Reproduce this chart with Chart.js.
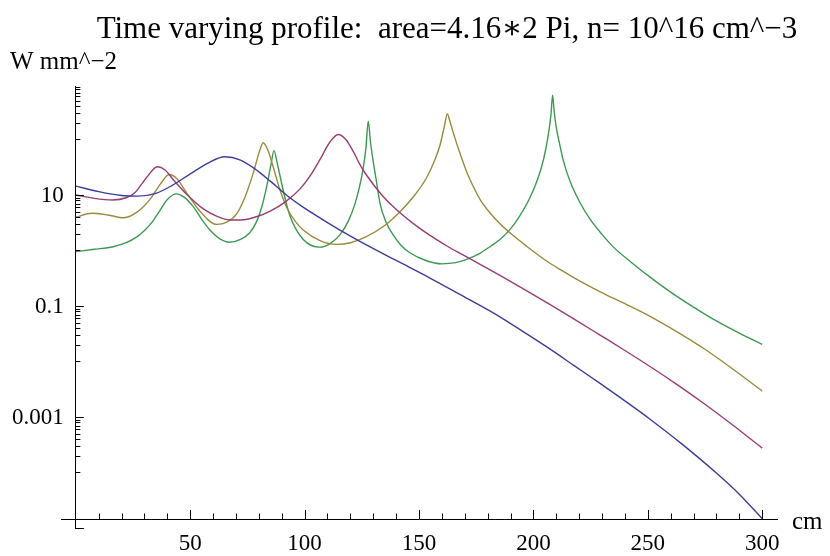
<!DOCTYPE html>
<html>
<head>
<meta charset="utf-8">
<script src="https://cdn.jsdelivr.net/npm/chart.js@4.4.1/dist/chart.umd.min.js"></script>
<style>
  html, body { margin: 0; padding: 0; background: #fff; }
  #wrap { width: 830px; height: 556px; }
</style>
</head>
<body>
<div id="wrap"><canvas id="chart" width="830" height="556"></canvas></div>
<script>
const titleText = 'Time varying profile:  area=4.16\u22172 Pi, n= 10^16 cm^\u22123';
const yLabelText = 'W mm^\u22122';
const xLabelText = 'cm';

const xTicks = [10, 20, 30, 40, 50, 60, 70, 80, 90, 100, 110, 120, 130, 140, 150, 160, 170, 180, 190, 200, 210, 220, 230, 240, 250, 260, 270, 280, 290, 300];
const xTickLabels = [50, 100, 150, 200, 250, 300];
const yMajorTicks = [1e-5, 0.001, 0.1, 10, 1000];
const yLabelValues = [0.001, 0.1, 10];
const yLabelTexts = ['0.001', '0.1', '10'];

// values (W mm^-2)
const blueX = [0, 10, 20, 27, 35, 42, 50, 58, 65, 72, 78, 85, 92, 99, 107, 117, 127, 140, 155, 170, 185, 196, 207, 218, 229, 240, 251, 265, 280, 290, 300];
const blueY = [14.45, 11.48, 9.77, 9.55, 10.72, 14.79, 23.99, 38.02, 48.98, 42.66, 30.20, 17.78, 10, 6.17, 3.80, 2.14, 1.26, 0.661, 0.316, 0.145, 0.0652, 0.0335, 0.0170, 0.00832, 0.00407, 0.00195, 0.000912, 0.000324, 0.0000977, 0.0000407, 0.0000148];

const magentaX = [0, 8, 16, 22, 26, 31, 35.6, 39, 42.5, 49, 55.7, 62, 67.3, 72, 77.5, 85, 92, 98, 103, 107, 111, 114.7, 118, 121.3, 124, 127, 134.4, 141.7, 149, 156, 163.5, 171, 185.4, 196, 207, 218, 229, 240, 251, 263, 275, 287, 300];
const magentaY = [10, 8.71, 8.13, 8.91, 11.22, 20.89, 32.36, 28.18, 19.05, 9.77, 5.62, 4.07, 3.55, 3.55, 3.89, 5.13, 7.76, 12.88, 23.99, 45.71, 89.13, 123.0, 100, 60.26, 36.31, 22.91, 9.33, 4.79, 2.75, 1.74, 1.12, 0.759, 0.355, 0.200, 0.108, 0.0575, 0.0302, 0.0158, 0.00813, 0.00380, 0.00170, 0.000724, 0.000275];

const oliveX = [0, 7, 14, 21, 27, 32.4, 37, 40.8, 44, 48.4, 54, 61.5, 66, 70.3, 74, 77.5, 80, 81.9, 84, 86.3, 89, 92.1, 96, 99.4, 106.7, 114, 120, 127, 135, 141.7, 148, 153.3, 157, 159.2, 161, 162.4, 163.5, 165, 167.5, 171, 174, 177, 181, 185.4, 190, 197, 205.8, 212, 219, 229, 240, 251, 263, 275, 287, 300];
const oliveY = [3.98, 4.68, 4.37, 3.89, 5.01, 8.32, 15.85, 23.44, 19.95, 10.96, 5.25, 2.95, 3.24, 4.57, 9.33, 24.55, 56.23, 87.10, 63.10, 31.62, 13.18, 6.03, 3.31, 2.34, 1.51, 1.29, 1.38, 1.78, 2.82, 5.01, 9.77, 20.42, 43.65, 79.43, 166.0, 288.4, 213.8, 131.8, 63.10, 25.12, 13.49, 7.94, 4.79, 3.02, 2.04, 1.20, 0.646, 0.447, 0.302, 0.182, 0.110, 0.0652, 0.0339, 0.0166, 0.00741, 0.00295];

const greenX = [0, 8, 16.3, 22, 26.5, 30, 33.5, 36.7, 40, 44, 47, 51.3, 55, 58.6, 63, 67.3, 72, 76, 79, 81.5, 83.4, 85.3, 86.6, 88, 89.9, 91.7, 93.6, 96, 99.4, 103, 106.7, 111, 115.4, 119, 122, 124, 125.6, 126.8, 127.8, 128.8, 130, 131.5, 132.9, 135.5, 138.7, 142, 146, 153, 160, 166, 170.8, 176.6, 181, 185.4, 190, 194, 198.5, 202, 204.5, 206.5, 207.7, 208.4, 209.1, 210, 211.3, 213.1, 216, 220.4, 225, 230, 235, 243, 251, 260, 270, 280, 290, 300];
const greenY = [0.955, 1.05, 1.17, 1.38, 1.74, 2.29, 3.31, 5.25, 8.32, 10.47, 9.33, 6.17, 3.63, 2.34, 1.62, 1.41, 1.58, 2.09, 3.31, 6.61, 14.13, 35.48, 63.10, 38.02, 16.60, 7.94, 4.17, 2.51, 1.58, 1.23, 1.15, 1.32, 1.91, 3.31, 6.92, 14.13, 30.20, 70.79, 213.8, 89.13, 39.81, 16.60, 7.24, 3.31, 1.91, 1.26, 0.912, 0.661, 0.575, 0.603, 0.692, 0.891, 1.17, 1.58, 2.45, 4.17, 8.91, 19.95, 44.67, 120.2, 281.8, 631.0, 316.2, 166.0, 89.13, 41.69, 17.78, 7.24, 3.55, 1.95, 1.15, 0.603, 0.331, 0.178, 0.0955, 0.0537, 0.0324, 0.0204];

const xMin = -6.5;
const xMax = 306.5;
const yMin = 1e-5;
const yMax = 920;
const xAxisAt = 1.45e-5;

function toPoints(xs, ys) {
  return xs.map((x, i) => ({ x, y: ys[i] }));
}

function yTickValues() {
  const vals = [];
  yMajorTicks.forEach((m) => {
    vals.push(m);
    for (let k = 1; k <= 9; k++) vals.push(m * k / 10);
  });
  return vals.filter((v) => v >= yMin && v <= yMax).sort((a, b) => a - b);
}

function sameLog(a, b) {
  return Math.abs(Math.log10(a) - Math.log10(b)) < 1e-6;
}

const serif = '"Liberation Serif", "DejaVu Serif", serif';

// Mathematica style: ticks point inward, y labels set off left of the axis
const axisDecor = {
  id: 'axisDecor',
  afterDraw(chart) {
    const ctx = chart.ctx;
    const xs = chart.scales.x;
    const ys = chart.scales.y;
    const x0 = xs.getPixelForValue(0);
    const y0 = ys.getPixelForValue(xAxisAt);
    ctx.save();
    ctx.strokeStyle = '#000';
    ctx.lineWidth = 1;
    ctx.beginPath();
    xs.ticks.forEach((t) => {
      const px = Math.round(xs.getPixelForValue(t.value)) + 0.5;
      const len = xTickLabels.includes(t.value) ? 9 : 5.5;
      ctx.moveTo(px, y0);
      ctx.lineTo(px, y0 - len);
    });
    ys.ticks.forEach((t) => {
      const py = Math.round(ys.getPixelForValue(t.value)) + 0.5;
      const len = yMajorTicks.some((m) => sameLog(t.value, m)) ? 8 : 4.5;
      ctx.moveTo(x0, py);
      ctx.lineTo(x0 + len, py);
    });
    ctx.stroke();

    ctx.fillStyle = '#000';
    ctx.font = '23px ' + serif;
    ctx.textAlign = 'right';
    ctx.textBaseline = 'middle';
    yLabelValues.forEach((v, i) => {
      ctx.fillText(yLabelTexts[i], x0 - 12, ys.getPixelForValue(v) + 1);
    });

    ctx.font = '31px ' + serif;
    ctx.textAlign = 'center';
    ctx.textBaseline = 'alphabetic';
    ctx.fillText(titleText, 447, 38);
    ctx.font = '25px ' + serif;
    ctx.textAlign = 'left';
    ctx.fillText(yLabelText, 10, 69);
    ctx.fillText(xLabelText, 792, 529);
    ctx.restore();
  }
};

const lineStyle = { borderWidth: 1.4, pointRadius: 0, fill: false, cubicInterpolationMode: 'monotone' };

new Chart(document.getElementById('chart'), {
  type: 'line',
  data: {
    datasets: [
      { ...lineStyle, data: toPoints(blueX, blueY), borderColor: '#3d3d99' },
      { ...lineStyle, data: toPoints(magentaX, magentaY), borderColor: '#993d74' },
      { ...lineStyle, data: toPoints(oliveX, oliveY), borderColor: '#998a3d' },
      { ...lineStyle, data: toPoints(greenX, greenY), borderColor: '#3d9952' }
    ]
  },
  options: {
    responsive: false,
    animation: false,
    layout: { padding: { left: 61, right: 53, top: 86, bottom: 28 } },
    plugins: { legend: { display: false }, tooltip: { enabled: false }, title: { display: false } },
    scales: {
      x: {
        type: 'linear',
        min: xMin,
        max: xMax,
        position: { y: xAxisAt },
        grid: { display: false },
        border: { color: '#000', width: 1 },
        afterBuildTicks: (s) => { s.ticks = xTicks.map((v) => ({ value: v })); },
        ticks: {
          autoSkip: false,
          maxRotation: 0,
          padding: 3,
          color: '#000',
          font: { family: serif, size: 23 },
          callback: (v) => (xTickLabels.includes(v) ? String(v) : '')
        }
      },
      y: {
        type: 'logarithmic',
        min: yMin,
        max: yMax,
        position: { x: 0 },
        grid: { display: false },
        border: { color: '#000', width: 1 },
        afterBuildTicks: (s) => { s.ticks = yTickValues().map((v) => ({ value: v })); },
        ticks: { display: false }
      }
    }
  },
  plugins: [axisDecor]
});
</script>
</body>
</html>
